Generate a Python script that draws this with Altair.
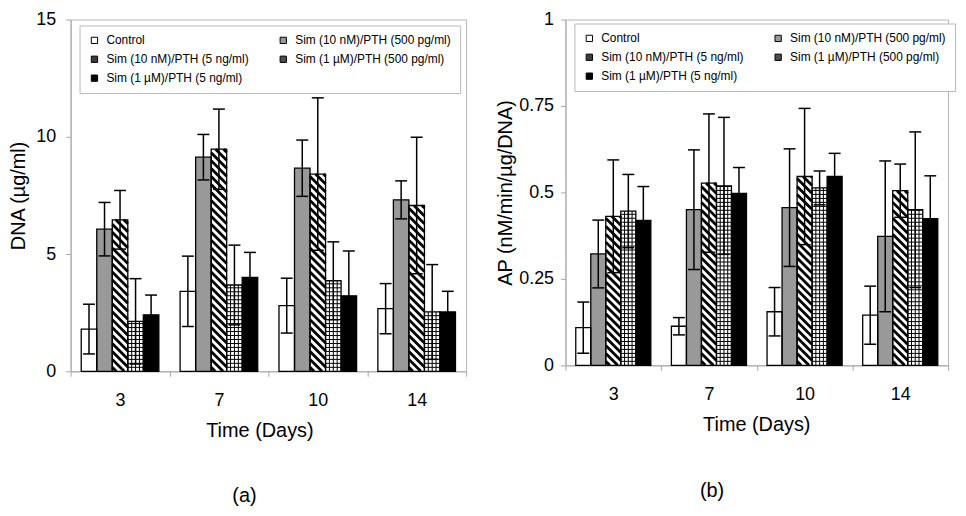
import altair as alt
import pandas as pd

# ---------------- data ----------------
days = ["3", "7", "10", "14"]
series = [
    "Control",
    "Sim (10 nM)/PTH (500 pg/ml)",
    "Sim (10 nM)/PTH (5 ng/ml)",
    "Sim (1 µM)/PTH (500 pg/ml)",
    "Sim (1 µM)/PTH (5 ng/ml)",
]

# (a) DNA (µg/ml): means and error (half-width)
dna_control = [1.80, 3.41, 2.80, 2.67]
dna_sim10_500 = [6.06, 9.13, 8.66, 7.31]
dna_sim10_5 = [6.46, 9.47, 8.41, 7.07]
dna_sim1_500 = [2.13, 3.68, 3.86, 2.53]
dna_sim1_5 = [2.41, 4.00, 3.22, 2.53]

dna_err_control = [1.06, 1.50, 1.17, 1.07]
dna_err_sim10_500 = [1.14, 0.97, 1.20, 0.81]
dna_err_sim10_5 = [1.25, 1.71, 3.25, 2.91]
dna_err_sim1_500 = [1.82, 1.70, 1.66, 2.02]
dna_err_sim1_5 = [0.84, 1.07, 1.91, 0.88]

# (b) AP (nM/min/µg/DNA): means and error (half-width)
ap_control = [0.109, 0.113, 0.155, 0.145]
ap_sim10_500 = [0.322, 0.450, 0.456, 0.373]
ap_sim10_5 = [0.431, 0.527, 0.546, 0.505]
ap_sim1_500 = [0.446, 0.519, 0.513, 0.450]
ap_sim1_5 = [0.419, 0.497, 0.546, 0.424]

ap_err_control = [0.074, 0.025, 0.070, 0.084]
ap_err_sim10_500 = [0.098, 0.173, 0.170, 0.218]
ap_err_sim10_5 = [0.163, 0.200, 0.197, 0.077]
ap_err_sim1_500 = [0.106, 0.198, 0.049, 0.225]
ap_err_sim1_5 = [0.098, 0.075, 0.067, 0.124]

dna_means = [dna_control, dna_sim10_500, dna_sim10_5, dna_sim1_500, dna_sim1_5]
dna_errs = [dna_err_control, dna_err_sim10_500, dna_err_sim10_5, dna_err_sim1_500, dna_err_sim1_5]
ap_means = [ap_control, ap_sim10_500, ap_sim10_5, ap_sim1_500, ap_sim1_5]
ap_errs = [ap_err_control, ap_err_sim10_500, ap_err_sim10_5, ap_err_sim1_500, ap_err_sim1_5]

# ---------------- styling ----------------
patterns = ["none", "none", "hatch", "grid", "none"]
legend_fills = ["white", "#999999", "#3c3c3c", "#4e4e4e", "black"]
FONT = "Liberation Sans"
GROUP = 0.785            # share of a day's slot taken by its 5 bars
BW = GROUP / len(series)
START = (1 - GROUP) / 2
HATCH_STEP = 8.0         # px between diagonal hatch lines
GRID_STEP = 4.0          # px between grid lines
AXIS_GREY = "#a8a8a8"


def build_tables(means, errs, w, h, ymax):
    pxx = w / len(days)
    pxy = h / ymax
    rows, hatch, grid = [], [], []
    for j, s in enumerate(series):
        for i, d in enumerate(days):
            x0 = i + START + j * BW
            x1 = x0 + BW
            m = means[j][i]
            e = errs[j][i]
            rows.append(dict(series=s, pattern=patterns[j], day=d, x0=x0, x1=x1,
                             xc=(x0 + x1) / 2, mean=m, base=0.0, lo=m - e, hi=m + e))
            wpx, hpx = BW * pxx, m * pxy
            if patterns[j] == "hatch":
                c = HATCH_STEP / 2
                while c < wpx + hpx:
                    ua, ub = max(0.0, c - hpx), min(wpx, c)
                    hatch.append(dict(hx0=x0 + ua / pxx, hy0=(c - ua) / pxy,
                                      hx1=x0 + ub / pxx, hy1=(c - ub) / pxy))
                    c += HATCH_STEP
            elif patterns[j] == "grid":
                for k in (1, 2, 3):
                    xx = x0 + k * BW / 4
                    grid.append(dict(hx0=xx, hx1=xx, hy0=0.0, hy1=m))
                t = GRID_STEP
                while t < hpx:
                    grid.append(dict(hx0=x0, hx1=x1, hy0=t / pxy, hy1=t / pxy))
                    t += GRID_STEP
    return pd.DataFrame(rows), pd.DataFrame(hatch), pd.DataFrame(grid)


def panel(means, errs, w, h, ymax, yvalues, yformat, ytitle, tag, legend_xy,
          label_pad, title_pad, title_dx, xtitle_x):
    df, hdf, gdf = build_tables(means, errs, w, h, ymax)
    pxx = w / len(days)
    xscale = alt.Scale(domain=[0, len(days)], nice=False, zero=False)
    yscale = alt.Scale(domain=[0, ymax], nice=False)
    label_expr = "[" + ",".join("'%s'" % d for d in days) + "][datum.value] || ''"
    xaxis = alt.Axis(values=list(range(len(days) + 1)), labelExpr=label_expr,
                     labelOffset=pxx / 2, labelFlush=False, tickSize=5,
                     labelFontSize=18, labelPadding=15, title="Time (Days)",
                     titleFontSize=20, titlePadding=12, titleX=xtitle_x)
    yaxis = alt.Axis(values=yvalues, format=yformat, tickSize=5, labelFontSize=18,
                     labelPadding=label_pad, title=ytitle, titleFontSize=20,
                     titlePadding=title_pad)

    # bars: their colour scale also drives the legend
    bars = alt.Chart(df).mark_rect(strokeWidth=0).encode(
        x=alt.X("x0:Q", scale=xscale, axis=xaxis),
        x2="x1:Q",
        y=alt.Y("mean:Q", scale=yscale, axis=yaxis),
        y2="base:Q",
        color=alt.Color(
            "series:N",
            scale=alt.Scale(domain=series, range=legend_fills),
            legend=alt.Legend(
                title=None, orient="none", legendX=legend_xy[0], legendY=legend_xy[1],
                columns=2, direction="horizontal", columnPadding=28, rowPadding=7,
                symbolType="square", symbolSize=40, symbolStrokeColor="black",
                symbolStrokeWidth=1, labelFontSize=12, labelFont=FONT,
                labelColor="black", labelOffset=6, labelLimit=300, padding=9,
                strokeColor="#b8b8b8", fillColor="white",
            ),
        ),
    )
    # patterned bars get a white ground under their line pattern
    ground = alt.Chart(df).transform_filter("datum.pattern != 'none'").mark_rect(
        fill="white", strokeWidth=0).encode(x="x0:Q", x2="x1:Q", y="mean:Q", y2="base:Q")
    hatch = alt.Chart(hdf).mark_rule(color="black", strokeWidth=2.8, strokeCap="butt").encode(
        x="hx0:Q", x2="hx1:Q", y="hy0:Q", y2="hy1:Q")
    grid = alt.Chart(gdf).mark_rule(color="black", strokeWidth=1).encode(
        x="hx0:Q", x2="hx1:Q", y="hy0:Q", y2="hy1:Q")
    outline = alt.Chart(df).mark_rect(fillOpacity=0, stroke="black", strokeWidth=1.3).encode(
        x="x0:Q", x2="x1:Q", y="mean:Q", y2="base:Q")
    err = alt.Chart(df).mark_rule(color="black", strokeWidth=1.5).encode(
        x="xc:Q", y="lo:Q", y2="hi:Q")
    cap_hi = alt.Chart(df).mark_rule(color="black", strokeWidth=1.5, xOffset=-6, x2Offset=6).encode(
        x="xc:Q", x2="xc:Q", y="hi:Q")
    cap_lo = alt.Chart(df).mark_rule(color="black", strokeWidth=1.5, xOffset=-6, x2Offset=6).encode(
        x="xc:Q", x2="xc:Q", y="lo:Q")
    return alt.layer(bars, ground, hatch, grid, outline, err, cap_hi, cap_lo).properties(
        width=w, height=h,
        title=alt.TitleParams(tag, orient="bottom", fontSize=20, fontWeight="normal",
                              font=FONT, color="black", offset=46, dx=title_dx),
    )


left = panel(dna_means, dna_errs, 398, 354, 15, [0, 5, 10, 15], "~g", "DNA (µg/ml)", "(a)",
             (9, 6), 10, 7, -24, 190)
right = panel(ap_means, ap_errs, 385, 348, 1, [0, 0.25, 0.5, 0.75, 1], ".2~f",
              "AP (nM/min/µg/DNA)", "(b)", (9, 4), 7, 3, -45, 192)

chart = (
    alt.hconcat(left, right, spacing=100, bounds="flush")
    .resolve_scale(x="independent", y="independent", color="independent")
    .resolve_legend(color="independent")
    .properties(padding={"left": 0, "top": 0, "right": 2, "bottom": 2})
    .configure(font=FONT)
    .configure_axis(labelFont=FONT, titleFont=FONT, labelColor="black", titleColor="black",
                    domainColor=AXIS_GREY, tickColor=AXIS_GREY, grid=False,
                    titleFontWeight="normal")
    .configure_view(stroke="#b4b4b4", strokeWidth=1)
)

chart.save("out.html", embed_options={"renderer": "svg", "actions": False})
